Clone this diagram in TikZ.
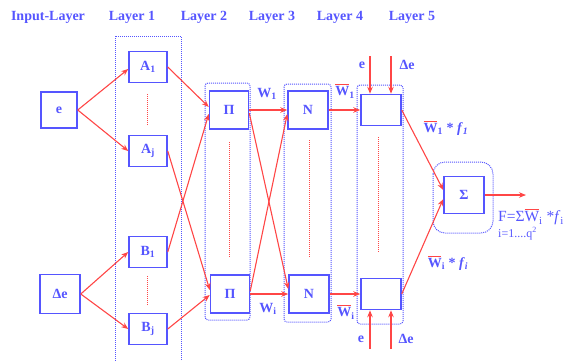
\documentclass[tikz,border=0pt]{standalone}
\usepackage{fontspec}
\setmainfont{Liberation Serif}
\usetikzlibrary{arrows.meta,calc}
\definecolor{nblue}{RGB}{85,85,255}
\definecolor{nred}{RGB}{255,70,70}
\newcommand\wbar{\leavevmode\rlap{\color{nred}\rule[0.78em]{0.95em}{1pt}}W}
\begin{document}
\begin{tikzpicture}[x=1pt,y=-1pt,
  box/.style={draw=nblue,line width=1.5pt,text=nblue,font=\bfseries\fontsize{14}{16}\selectfont,inner sep=0pt},
  hdr/.style={text=nblue,font=\bfseries\fontsize{14}{16}\selectfont,inner sep=0pt},
  lbl/.style={text=nblue,font=\bfseries\fontsize{14}{16}\selectfont,inner sep=0pt},
  outlbl/.style={text=nblue,font=\fontsize{15.5}{17}\selectfont,inner sep=0pt,anchor=west},
  layerbox/.style={draw=nblue,line width=1pt,dash pattern=on 1pt off 1pt},
  reddots/.style={draw=nred,line width=1pt,dash pattern=on 1pt off 1pt},
  conn/.style={draw=nred,line width=1.1pt,-{Stealth[length=7pt,width=5.5pt]}}]
\useasboundingbox (0,0) rectangle (573,360);

% headers
\node[hdr] (h0) at (48,17.5) {Input-Layer};
\node[hdr] (h1) at (132,17.5) {Layer 1};
\node[hdr] (h2) at (204,17.5) {Layer 2};
\node[hdr] (h3) at (272,17.5) {Layer 3};
\node[hdr] (h4) at (340,17.5) {Layer 4};
\node[hdr] (h5) at (412,17.5) {Layer 5};

% layer frames
\draw[layerbox] (115,36) rectangle (181,370);
\draw[layerbox,rounded corners=3pt] (205,83) rectangle (250,320);
\draw[layerbox,rounded corners=3pt] (284,84) rectangle (331,322);
\draw[layerbox,rounded corners=3pt] (357,85) rectangle (403,324);
\draw[layerbox,rounded corners=12pt] (433,162) rectangle (493,233);

% red dotted separators
\draw[reddots] (147,94) -- (147,125);
\draw[reddots] (147,276) -- (147,306);
\draw[reddots] (229,142) -- (229,258);
\draw[reddots] (309,140) -- (309,257);
\draw[reddots] (378,137) -- (378,253);

% nodes
\node[box,minimum width=36pt,minimum height=36pt] (e) at (59,110) {e};
\node[box,minimum width=40pt,minimum height=39pt] (de) at (60,294) {Δe};
\node[box,minimum width=38pt,minimum height=31pt] (A1) at (148,67) {A\textsubscript{1}};
\node[box,minimum width=38pt,minimum height=31pt] (Aj) at (148,151) {A\textsubscript{j}};
\node[box,minimum width=38pt,minimum height=31pt] (B1) at (148,252) {B\textsubscript{1}};
\node[box,minimum width=38pt,minimum height=31pt] (Bj) at (148,329) {B\textsubscript{j}};
\node[box,minimum width=39pt,minimum height=38pt] (P1) at (229,110) {Π};
\node[box,minimum width=39pt,minimum height=38pt] (P2) at (230,294) {Π};
\node[box,minimum width=40pt,minimum height=38pt] (N1) at (308,110) {N};
\node[box,minimum width=40pt,minimum height=38pt] (N2) at (309,294) {N};
\node[box,minimum width=40pt,minimum height=31pt] (R1) at (381,110) {};
\node[box,minimum width=40pt,minimum height=31pt] (R2) at (381,294) {};
\node[box,minimum width=40pt,minimum height=37pt] (S) at (464,195) {Σ};

% external inputs of layer 4
\coordinate (t1) at (370,56);
\coordinate (t2) at (391,56);
\coordinate (b1) at (370,349);
\coordinate (b2) at (391,349);
\coordinate (out) at (526,195);

% connectors
\draw[conn] (e.east) -- ($(A1.west)+(0,2)$);
\draw[conn] (e.east) -- (Aj.west);
\draw[conn] (de.east) -- (B1.west);
\draw[conn] (de.east) -- (Bj.west);
\draw[conn] (A1.east) -- ($(P1.west)+(0,-3)$);
\draw[conn] (B1.east) -- ($(P1.west)+(0,4)$);
\draw[conn] (Aj.east) -- ($(P2.west)+(0,-4)$);
\draw[conn] (Bj.east) -- ($(P2.west)+(0,1)$);
\draw[conn] (P1.east) -- (N1.west);
\draw[conn] ($(P1.east)+(0,3)$) -- ($(N2.west)+(0,-5)$);
\draw[conn] ($(P2.east)+(0,-3)$) -- ($(N1.west)+(0,4)$);
\draw[conn] (P2.east) -- (N2.west);
\draw[conn] (N1.east) -- (R1.west);
\draw[conn] (N2.east) -- (R2.west);
\draw[conn] (t1) -- (R1.north -| t1);
\draw[conn] (t2) -- (R1.north -| t2);
\draw[conn] (b1) -- (R2.south -| b1);
\draw[conn] (b2) -- (R2.south -| b2);
\draw[conn] (R1.east) -- ($(S.west)+(0,-5)$);
\draw[conn] (R2.east) -- ($(S.west)+(0,4)$);
\draw[conn] (S.east) -- (out);

% labels
\node[lbl] (lw1) at (267,94) {W\textsubscript{1}};
\node[lbl] (lwi) at (268,309) {W\textsubscript{i}};
\node[lbl] (lwb1) at (345,91) {\wbar\textsubscript{1}};
\node[lbl] (lwbi) at (346,312) {\wbar\textsubscript{i}};
\node[lbl] (lf1) at (446,128) {\wbar\textsubscript{1} * \textit{f}\textsubscript{\textit{1}}};
\node[lbl] (lfi) at (448,263) {\wbar\textsubscript{i} * \textit{f}\textsubscript{\textit{i}}};
\node[lbl] (le1) at (362,65) {e};
\node[lbl] (lde1) at (407,65) {Δe};
\node[lbl] (le2) at (361,339) {e};
\node[lbl] (lde2) at (406,339) {Δe};
\node[outlbl] (F) at (498,217) {F=Σ\leavevmode\rlap{\color{nred}\rule[0.78em]{0.95em}{1pt}}W\textsubscript{i} *\textit{f}\textsubscript{i}};
\node[outlbl,font=\fontsize{12}{14}\selectfont] (ir) at (498,233.5) {i=1....q\textsuperscript{2}};
\end{tikzpicture}
\end{document}
